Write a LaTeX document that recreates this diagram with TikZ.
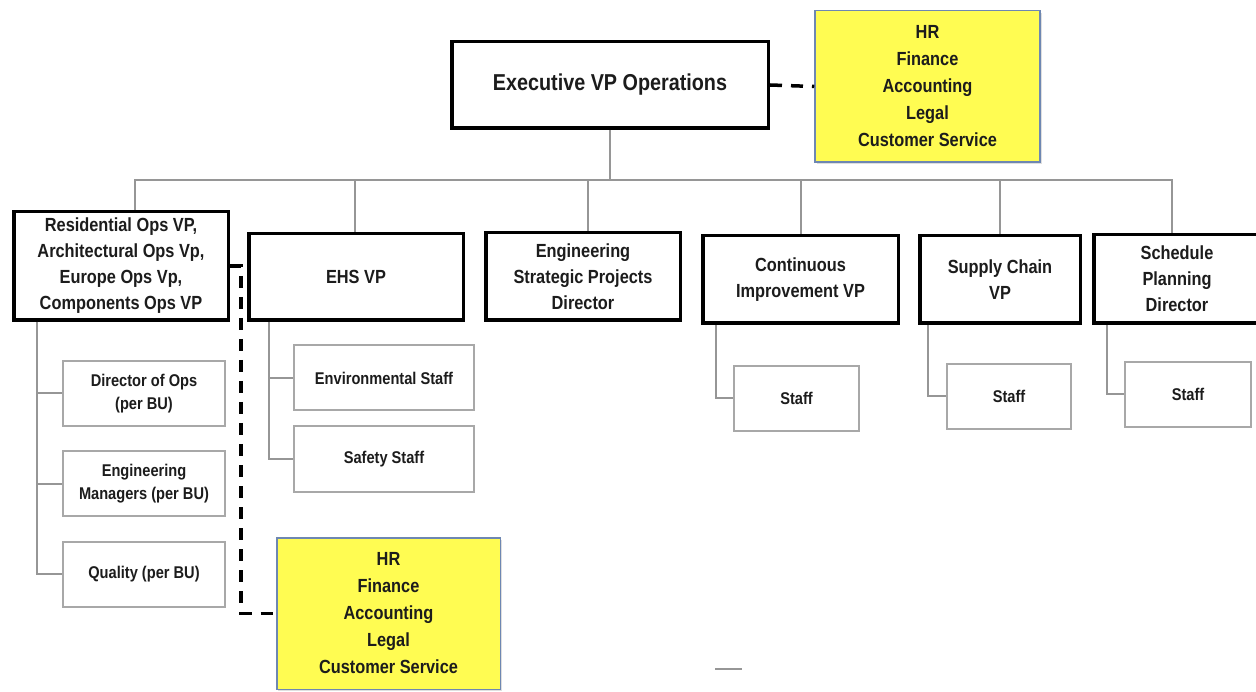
\documentclass[tikz,border=0pt]{standalone}
\usepackage{fontspec}
\setmainfont{Liberation Sans}[FakeStretch=0.86]
\usepackage{xcolor}
\usetikzlibrary{positioning}
\usetikzlibrary{shadows}
\definecolor{hryellow}{RGB}{255,252,82}
\definecolor{hrframe}{RGB}{110,135,178}
\definecolor{linkgray}{RGB}{150,150,150}
\definecolor{subgray}{RGB}{168,168,168}
\definecolor{inkgray}{RGB}{28,28,28}
\newcommand\thickline{3.5pt}
\newcommand\subline{2pt}
\newcommand\busdrop{50}
\tikzset{
    topbox/.style = {draw=black, line width=\thickline, fill=white, text=inkgray, align=center, inner sep=0pt,
                     font=\fontsize{19}{26}\selectfont\bfseries},
    subbox/.style = {draw=subgray, line width=\subline, fill=white, text=inkgray, align=center, inner sep=0pt,
                     minimum height=65, font=\fontsize{17}{23}\selectfont\bfseries},
    hrbox/.style  = {draw=hrframe, line width=1.5pt, fill=hryellow, text=inkgray, align=center, inner sep=0pt,
                     minimum width=225, minimum height=151.5, font=\fontsize{19}{27}\selectfont\bfseries,
                     drop shadow={opacity=0.25, shadow xshift=1.5pt, shadow yshift=-2pt}},
    link/.style   = {draw=linkgray, line width=2pt},
    dotline/.style = {draw=black, line width=\thickline, dash pattern=on 12pt off 9pt},
}

\begin{document}
\begin{tikzpicture}[x=1pt, y=-1pt]
    \useasboundingbox (0,0) rectangle (1256,692);
    % --- Top of the chart
    \node[topbox, minimum width=316.5, minimum height=86.5, font=\fontsize{23}{26}\selectfont\bfseries]
        (exec) at (610,85) {Executive VP Operations};
    \node[hrbox] (hrtop) at (927.5,86.5) {HR\\Finance\\Accounting\\Legal\\Customer Service};
    % --- Second row
    \node[topbox, minimum width=214.5, minimum height=108.5] (res) at (121,266)
        {Residential Ops VP,\\Architectural Ops Vp,\\Europe Ops Vp,\\Components Ops VP};
    \node[topbox, minimum width=214.5, minimum height=86.5] (ehs) at (356,277) {EHS VP};
    \node[topbox, minimum width=194.5, minimum height=87.5] (engsp) at (583,276.5)
        {Engineering\\Strategic Projects\\Director};
    \node[topbox, minimum width=195.5, minimum height=87.5] (contimp) at (800.5,279.5)
        {Continuous\\Improvement VP};
    \node[topbox, minimum width=160.5, minimum height=87.5] (supply) at (1000,279.5) {Supply Chain\\VP};
    \node[topbox, minimum width=166.5, minimum height=88.5] (sched) at (1177,279)
        {Schedule\\Planning\\Director};
    % --- Third row
    \node[subbox, minimum width=162] (dirops) at (144,393.5) {Director of Ops\\(per BU)};
    \node[subbox, minimum width=162] (engmgr) at (144,483.5) {Engineering\\Managers (per BU)};
    \node[subbox, minimum width=162] (quality) at (144,574) {Quality (per BU)};
    \node[subbox, minimum width=180] (envstaff) at (384,378) {Environmental Staff};
    \node[subbox, minimum width=180] (safestaff) at (384,459) {Safety Staff};
    \node[subbox, minimum width=125] (cistaff) at (796.5,398.5) {Staff};
    \node[subbox, minimum width=124] (scstaff) at (1009,396.5) {Staff};
    \node[subbox, minimum width=126] (schedstaff) at (1188,394.5) {Staff};
    \node[hrbox, minimum width=223.5] (hrlow) at (388.5,613.5) {HR\\Finance\\Accounting\\Legal\\Customer Service};
    % --- Reporting lines
    \draw[link] (exec.south) -- ++(0,\busdrop) coordinate (bus);
    \draw[link] ([xshift=14pt]res.north) |- (bus);
    \draw[link] ([xshift=-1pt]ehs.north) |- (bus);
    \draw[link] ([xshift=5pt]engsp.north) |- (bus);
    \draw[link] (contimp.north) |- (bus);
    \draw[link] (supply.north) |- (bus);
    \draw[link] ([xshift=-5pt]sched.north) |- (bus);
    \draw[link] ([xshift=25pt]res.south west) |- (dirops.west);
    \draw[link] ([xshift=25pt]res.south west) |- (engmgr.west);
    \draw[link] ([xshift=25pt]res.south west) |- (quality.west);
    \draw[link] ([xshift=22pt]ehs.south west) |- (envstaff.west);
    \draw[link] ([xshift=22pt]ehs.south west) |- (safestaff.west);
    \draw[link] ([xshift=15pt]contimp.south west) |- (cistaff.west);
    \draw[link] ([xshift=10pt]supply.south west) |- (scstaff.west);
    \draw[link] ([xshift=15pt]sched.south west) |- (schedstaff.west);
    % --- Dotted lines to the shared services
    \draw[dotline] (exec.east) -- (hrtop.west);
    \draw[dotline] (res.east) -- ++(11,0) |- (hrlow.west);
    % --- Stray mark
    \draw[linkgray, line width=2pt] (715,669) -- (742,669);
\end{tikzpicture}
\end{document}
